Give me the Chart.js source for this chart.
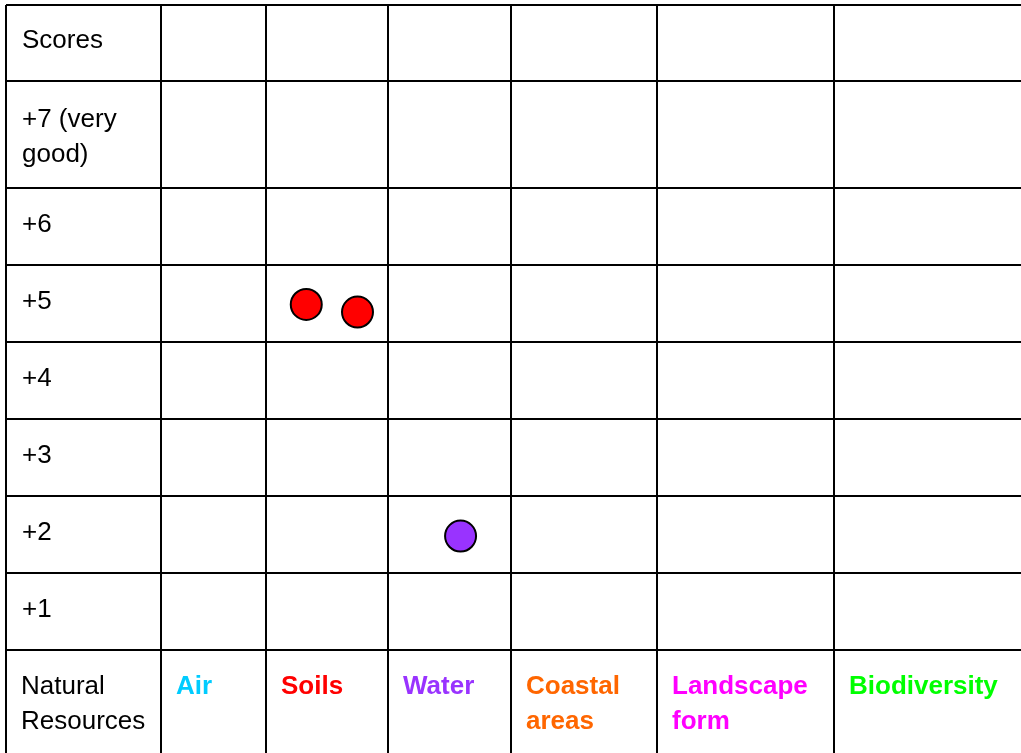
<!DOCTYPE html>
<html>
<head>
<meta charset="utf-8">
<title>Natural resources scores</title>
<script src="https://cdn.jsdelivr.net/npm/chart.js@4.4.1/dist/chart.umd.min.js"></script>
<style>
  html, body { margin: 0; padding: 0; background: #fff; }
  #wrap { width: 1021px; height: 753px; }
</style>
</head>
<body>
<div id="wrap"><canvas id="scores-chart"></canvas></div>
<script>
// Scores per natural resource, laid out as a table

// row labels, bottom to top
const scoreLabels = ['+1', '+2', '+3', '+4', '+5', '+6', ['+7 (very', 'good)'], 'Scores'];
// column labels, left to right
const resourceLabels = [['Natural', 'Resources'], 'Air', 'Soils', 'Water', ['Coastal', 'areas'], ['Landscape', 'form'], 'Biodiversity'];
const resourceColors = ['#000000', '#00CCFF', '#FF0000', '#9933FF', '#FF6600', '#FF00FF', '#00FF00'];

// marks: which column, where across the cell (0..1), score
const markColumns = [2, 2, 3];
const markSpread = [0.33, 0.75, 0.59];
const markScores = [4.99, 4.89, 1.98];

// table layout: column edges in px, row edges / label rows in score units
const colEdges = [6, 161, 266, 388, 511, 657, 834];
const tableRight = 1021;
const rowEdges = [0.5, 1.5, 2.5, 3.5, 4.5, 5.5, 6.5, 7.89, 8.88];
const labelRows = [1.02, 2.02, 3.02, 4.02, 5.02, 6.02, 7.16, 8.42];

const FONT = "'Liberation Sans', Arial, sans-serif";
const FONT_SIZE = 26;

function colWidth(c) {
  const next = c + 1 < colEdges.length ? colEdges[c + 1] : tableRight;
  return next - colEdges[c];
}

const marks = markColumns.map((c, i) => ({
  x: colEdges[c] + markSpread[i] * colWidth(c),
  y: markScores[i],
}));

new Chart(document.getElementById('scores-chart'), {
  type: 'scatter',
  data: {
    datasets: [{
      data: marks,
      backgroundColor: markColumns.map(c => resourceColors[c]),
      borderColor: '#000',
      borderWidth: 2,
      pointRadius: 15.5,
      pointHoverRadius: 15.5,
    }],
  },
  options: {
    responsive: true,
    maintainAspectRatio: false,
    animation: false,
    layout: { autoPadding: false, padding: { left: 6, top: 5, right: 0, bottom: 0 } },
    plugins: {
      legend: { display: false },
      tooltip: { enabled: false },
    },
    scales: {
      x: {
        type: 'linear',
        position: 'bottom',
        min: colEdges[0],
        max: tableRight,
        afterBuildTicks: (s) => { s.ticks = colEdges.map(v => ({ value: v })); },
        afterFit: (s) => { s.height = 103; s.paddingLeft = 0; s.paddingRight = 0; },
        grid: { color: '#000', lineWidth: 2, drawTicks: true, tickLength: 103, tickColor: '#000' },
        border: { display: false },
        ticks: {
          autoSkip: false,
          maxRotation: 0,
          align: 'start',
          labelOffset: 15,
          padding: -83.5,
          callback: (v, i) => resourceLabels[i],
          color: (c) => resourceColors[c.index],
          font: (c) => ({ family: FONT, size: FONT_SIZE, weight: c.index === 0 ? 'normal' : 'bold', lineHeight: 1.35 }),
        },
      },
      y: {
        type: 'linear',
        position: 'left',
        min: rowEdges[0],
        max: rowEdges[rowEdges.length - 1],
        afterBuildTicks: (s) => { s.ticks = rowEdges.map(v => ({ value: v })); },
        afterFit: (s) => { s.width = 0; s.paddingTop = 0; s.paddingBottom = 0; },
        grid: { color: '#000', lineWidth: 2, drawTicks: false },
        border: { display: false },
        ticks: { display: false },
      },
      yText: {
        type: 'linear',
        position: 'left',
        min: rowEdges[0],
        max: rowEdges[rowEdges.length - 1],
        afterBuildTicks: (s) => { s.ticks = labelRows.map(v => ({ value: v })); },
        afterFit: (s) => { s.width = 0; s.paddingTop = 0; s.paddingBottom = 0; },
        grid: { display: false, drawTicks: false },
        border: { display: false },
        ticks: {
          mirror: true,
          padding: 16,
          autoSkip: false,
          color: '#000',
          font: { family: FONT, size: FONT_SIZE, lineHeight: 1.38 },
          callback: (v, i) => scoreLabels[i],
        },
      },
    },
  },
});
</script>
</body>
</html>
